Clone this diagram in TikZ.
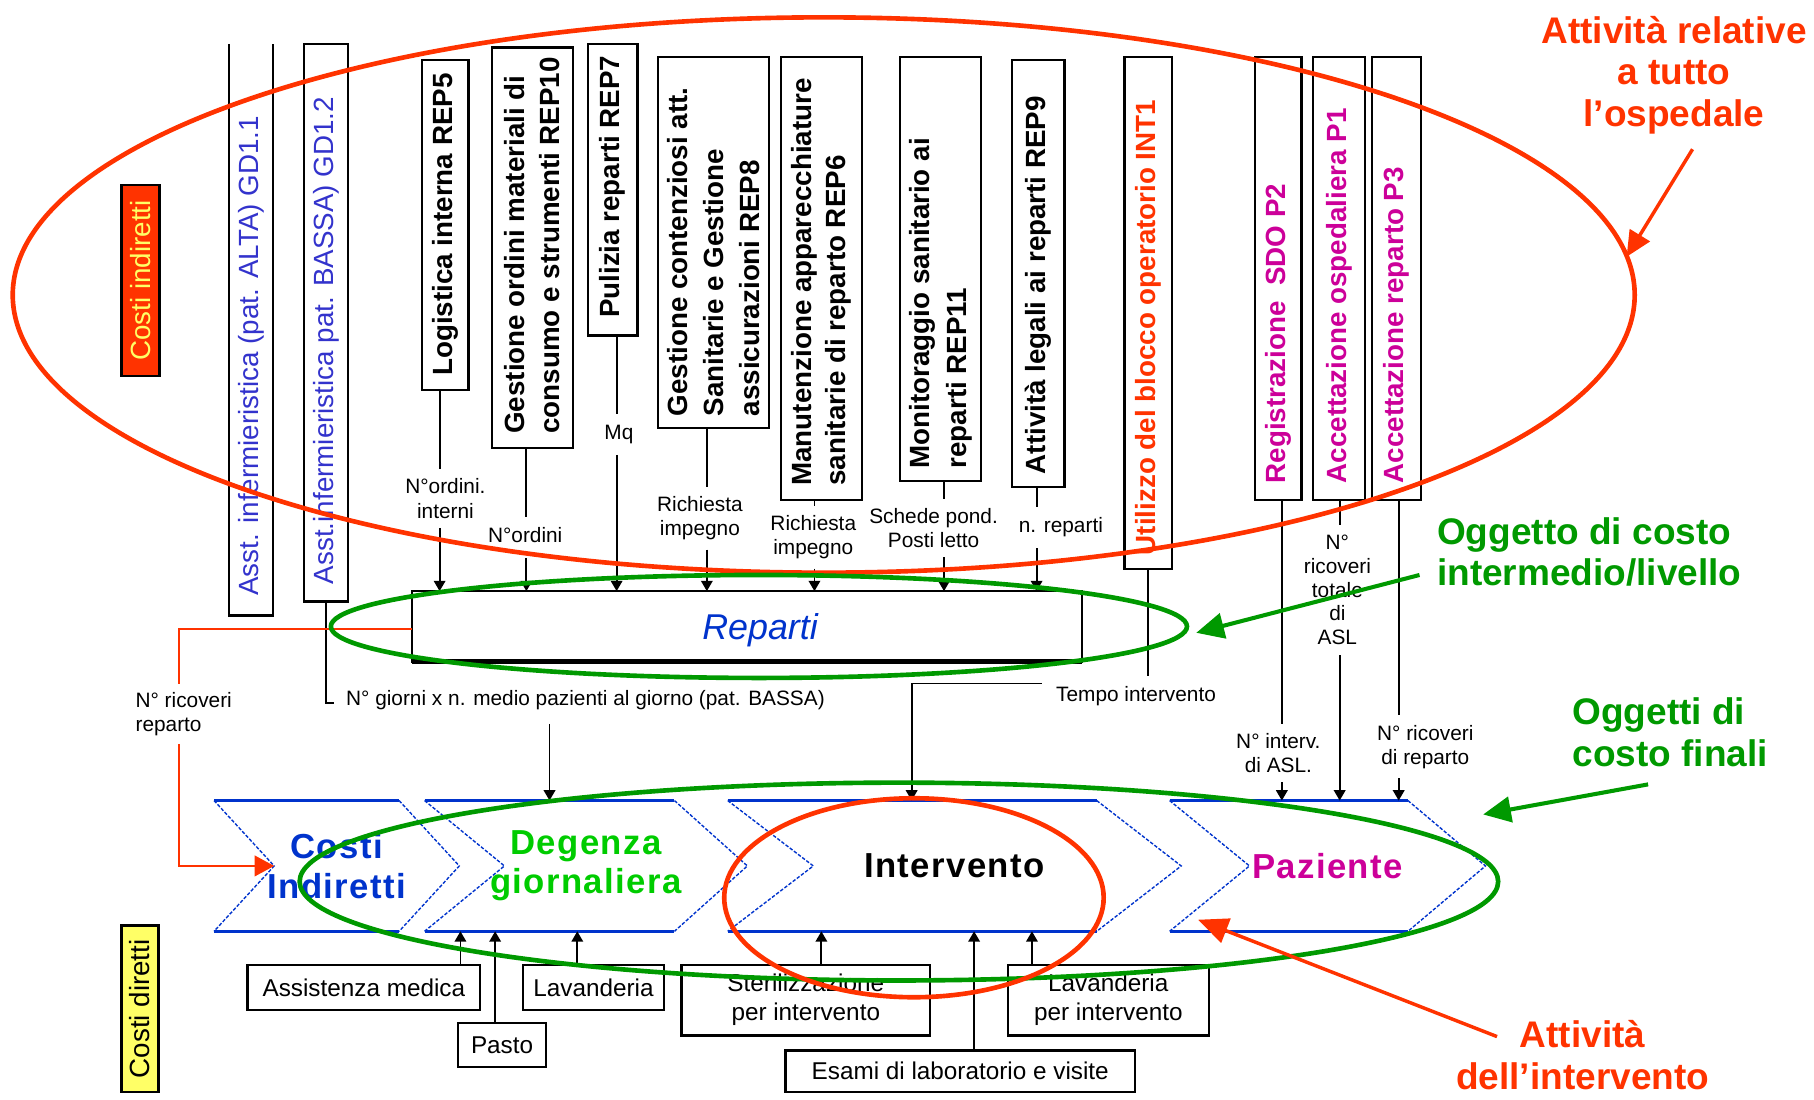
\documentclass[tikz,border=0pt]{standalone}
\usepackage{fontspec}
\setmainfont{Liberation Sans}
\usetikzlibrary{arrows.meta,calc,shapes.geometric}

\definecolor{hred}{HTML}{FF3300}
\definecolor{hgreen}{HTML}{009900}
\definecolor{lgreen}{HTML}{00CC00}
\definecolor{cblue}{HTML}{0033CC}
\definecolor{tblue}{HTML}{3333CC}
\definecolor{hmag}{HTML}{CC0099}
\definecolor{hyel}{HTML}{FFFF66}

\newcommand\fsz[2]{\fontsize{#1}{#2}\selectfont}
% box -> driver label -> receiving object, at an x offset from the box centre
\newcommand\feedline[4]{%
  \draw[conn] ($(#1.south)+(#4,0)$) -- ($(#1.south |- #2.north)+(#4,0)$);
  \draw[conn,arrtip] ($(#1.south |- #2.south)+(#4,0)$) -- ($(#1.south |- #3.north)+(#4,0)$);}
% direct cost box -> cost object above it
\newcommand\upline[3]{%
  \draw[conn,arrtip] ($(#1.north)+(#3,0)$) -- ($(#1.north |- #2.south)+(#3,0)$);}
% chevron outline around a node: notch depth, tip depth
\newcommand\chevshape[3]{%
  \draw[chevedge] (#1.north west) -- ($(#1.north east)+(-#3,0)$)
                  (#1.south west) -- ($(#1.south east)+(-#3,0)$);
  \draw[chevdiag] (#1.north west) -- ($(#1.west)+(#2,0)$) -- (#1.south west)
                  ($(#1.north east)+(-#3,0)$) -- (#1.east) -- ($(#1.south east)+(-#3,0)$);}

\begin{document}
\begin{tikzpicture}[x=1pt,y=-1pt,
  conn/.style={line width=1.6pt,black},
  arrtip/.style={-{Triangle[length=9pt,width=10pt]}},
  vb/.style={draw,line width=2pt,inner sep=0pt,outer sep=0pt},
  vt/.style={rotate=90,anchor=west,align=left,inner sep=0pt,font=\bfseries\fsz{24}{30}},
  lbl/.style={font=\fsz{18}{21},align=center,inner xsep=3pt,inner ysep=8pt},
  lbl1/.style={font=\fsz{18}{21},align=center,inner xsep=3pt,inner ysep=9pt,text height=13pt,text depth=4pt},
  bbox/.style={draw,line width=2pt,font=\fsz{21}{25},align=center,inner sep=0pt,outer sep=0pt},
  chev/.style={inner sep=0pt,outer sep=0pt,minimum height=113pt,align=center,
    font=\bfseries\fsz{30}{34}\addfontfeatures{LetterSpace=4}},
  chevedge/.style={cblue,line width=2.5pt},
  chevdiag/.style={cblue,line width=1.2pt,dash pattern=on 3pt off 1.5pt},
  ring/.style={ellipse,line width=4pt,inner sep=0pt,outer sep=0pt},
  ann/.style={font=\bfseries\fsz{32}{36},align=center,inner sep=0pt},
]
\useasboundingbox (0,0) rectangle (1568,950);

% ---- side tags
\node[draw,line width=2pt,fill=hred,rotate=90,minimum width=165pt,minimum height=33pt,
      inner sep=0pt,text=hyel,font=\fsz{24}{26}] (cind) at (121.5,242.5) {Costi indiretti};
\node[draw,line width=2pt,fill=hyel,rotate=90,minimum width=144pt,minimum height=32pt,
      inner sep=0pt,font=\fsz{24}{26}] (cdir) at (121,872) {Costi diretti};

% ---- activity boxes (top)
\node[vb,draw=none,minimum width=38pt,minimum height=494pt] (asst1) at (217,285) {};
\draw[line width=2pt] (asst1.north west) -- (asst1.south west) -- (asst1.south east) -- (asst1.north east);
\node[vb,minimum width=38pt,minimum height=482pt] (asst2) at (282,279) {};
\node[vb,minimum width=40pt,minimum height=285pt] (logi) at (385,194.5) {};
\node[vb,minimum width=70pt,minimum height=346pt] (gord) at (460,214) {};
\node[vb,minimum width=43pt,minimum height=252pt] (puli) at (529.5,164) {};
\node[vb,minimum width=96pt,minimum height=321pt] (cont) at (617,209.5) {};
\node[vb,minimum width=70pt,minimum height=383pt] (manu) at (710,240.5) {};
\node[vb,minimum width=70pt,minimum height=367pt] (moni) at (813,232.5) {};
\node[vb,minimum width=45pt,minimum height=369pt] (lega) at (897.5,236.5) {};
\node[vb,minimum width=41pt,minimum height=443pt] (util) at (992.5,270.5) {};
\node[vb,minimum width=40pt,minimum height=383pt] (regi) at (1105,240.5) {};
\node[vb,minimum width=45pt,minimum height=383pt] (acco) at (1157.5,240.5) {};
\node[vb,minimum width=42pt,minimum height=383pt] (accr) at (1207,240.5) {};

\node[vt,text=tblue,font=\fsz{24}{30}] (asst1t) at ($(asst1.south)+(0,-17)$) {Asst. infermieristica (pat. ALTA) GD1.1};
\node[vt,text=tblue,font=\fsz{24}{30}] (asst2t) at ($(asst2.south)+(0,-15)$) {Asst.infermieristica pat. BASSA) GD1.2};
\node[vt] (logit) at ($(logi.south)+(0,-12)$) {Logistica interna REP5};
\node[vt] (gordt) at ($(gord.south)+(0,-12)$) {Gestione ordini materiali di\\consumo e strumenti REP10};
\node[vt] (pulit) at ($(puli.south)+(0,-15)$) {Pulizia reparti REP7};
\node[vt,font=\bfseries\fsz{24}{31}] (contt) at ($(cont.south)+(0,-10)$) {Gestione contenziosi att.\\Sanitarie e Gestione\\assicurazioni REP8};
\node[vt] (manut) at ($(manu.south)+(0,-12)$) {Manutenzione apparecchiature\\sanitarie di reparto REP6};
\node[vt,font=\bfseries\fsz{24}{32}] (monit) at ($(moni.south)+(0,-11)$) {Monitoraggio sanitario ai\\reparti REP11};
\node[vt] (legat) at ($(lega.south)+(0,-11)$) {Attività legali ai reparti REP9};
\node[vt,text=hred] (utilt) at ($(util.south)+(0,-12)$) {Utilizzo del blocco operatorio INT1};
\node[vt,text=hmag] (regit) at ($(regi.south)+(0,-14)$) {Registrazione \ SDO P2};
\node[vt,text=hmag] (accot) at ($(acco.south)+(0,-14)$) {Accettazione ospedaliera P1};
\node[vt,text=hmag] (accrt) at ($(accr.south)+(0,-14)$) {Accettazione reparto P3};

% ---- intermediate cost object
\node[vb,minimum width=579pt,minimum height=61pt] (rep) at (645.5,541.5) {};
\draw[line width=4pt] (rep.south west) -- (rep.south east);
\node[font=\itshape\fsz{31}{34},text=cblue] (rept) at (657,545) {Reparti};

% ---- driver labels
\node[lbl] (l-logi) at (385,431) {N°ordini.\\interni};
\node[lbl1] (l-gord) at (454,464.5) {N°ordini};
\node[lbl1] (l-puli) at (535,375.5) {Mq};
\node[lbl] (l-cont) at (605,448) {Richiesta\\impegno};
\node[lbl] (l-manu) at (703,464.5) {Richiesta\\impegno};
\node[lbl] (l-moni) at (807,456.5) {Schede pond.\\Posti letto};
\node[lbl1] (l-lega) at (917,456) {n. reparti};
\node[lbl] (l-regi) at (1105,651) {N° interv.\\di ASL.};
\node[lbl,font=\fsz{18}{20.5},inner ysep=9pt] (l-acco) at (1156,510) {N°\\ricoveri\\totale\\di\\ASL};
\node[lbl] (l-accr) at (1232,645.5) {N° ricoveri\\di reparto};
\node[lbl1] (tempo) at (982,602) {Tempo intervento};
\node[lbl1,anchor=west] (ngiorni) at (296,605) {N° giorni x n. medio pazienti al giorno (pat. BASSA)};
\node[lbl,align=left,anchor=west,inner ysep=7pt] (ricov) at (114,617) {N° ricoveri\\reparto};

% ---- final cost objects
\node[chev,minimum width=212pt,text=cblue] (ci) at (291,748.5) {Costi\\Indiretti};
\node[chev,minimum width=279pt,text=lgreen] (deg) at (506.5,748.5) {Degenza\\giornaliera};
\node[chev,minimum width=392pt] (int) at (825,748.5) {Intervento};
\node[chev,minimum width=273pt,text=hmag] (pz) at (1147.5,748.5) {Paziente};
\chevshape{ci}{52}{52}
\chevshape{deg}{69}{63}
\chevshape{int}{74}{73}
\chevshape{pz}{69}{67}

% ---- direct cost boxes
\node[bbox,minimum width=201pt,minimum height=39pt] (assist) at (314.5,853.5) {Assistenza medica};
\node[bbox,minimum width=76pt,minimum height=38pt] (pasto) at (434,903.5) {Pasto};
\node[bbox,minimum width=122pt,minimum height=39pt] (lavan) at (513,853.5) {Lavanderia};
\node[bbox,minimum width=215pt,minimum height=61pt] (steril) at (696.5,864.5) {Sterilizzazione\\per intervento};
\node[bbox,minimum width=174pt,minimum height=61pt] (lavint) at (958,864.5) {Lavanderia\\per intervento};
\node[bbox,minimum width=302pt,minimum height=36pt] (esami) at (830,926) {Esami di laboratorio e visite};

% ---- connectors
\feedline{logi}{l-logi}{rep}{-5}
\feedline{gord}{l-gord}{rep}{-5}
\feedline{puli}{l-puli}{rep}{3.5}
\feedline{cont}{l-cont}{rep}{-6}
\feedline{manu}{l-manu}{rep}{-6}
\feedline{moni}{l-moni}{rep}{3}
\feedline{lega}{l-lega}{rep}{-1.5}
\feedline{regi}{l-regi}{pz}{3}
\feedline{acco}{l-acco}{pz}{0.5}
\feedline{accr}{l-accr}{pz}{2}

\draw[conn] (asst2.south) |- ($(ngiorni.west)+(-7,3)$);
\draw[conn,arrtip] ($(deg.north |- ngiorni.south)+(-31.5,3)$) -- ($(deg.north)+(-31.5,0)$);
\draw[conn] (util.south) -- (util.south |- tempo.north);
\draw[conn,arrtip] ($(tempo.north west)+(-9.5,6.5)$) -| ($(int.north)+(-37,0)$);

\draw[hred,line width=1.5pt] ($(rep.west)+(0,2)$) -| ($(ricov.north west)+(41,0)$);
\draw[hred,line width=1.5pt,-{Triangle[length=17pt,width=18pt]}]
  ($(ricov.south west)+(41,0)$) |- ($(ci.west)+(52,0)$);

\upline{assist}{deg}{83.5}
\upline{pasto}{deg}{-6}
\upline{lavan}{deg}{-14}
\upline{steril}{int}{13.5}
\upline{esami}{int}{12}
\upline{lavint}{int}{-66}

% ---- groupings
\node[ring,draw=hred,minimum width=1402pt,minimum height=480pt] (hosp) at (712,255) {};
\node[ring,draw=hgreen,minimum width=740pt,minimum height=89pt] (repell) at (656,541.5) {};
\node[ring,draw=hgreen,minimum width=1036pt,minimum height=171pt] (finell) at (777,762) {};
\node[ring,draw=hred,minimum width=328pt,minimum height=172pt] (intell) at (790,776) {};

% ---- callouts
\node[ann,text=hred] (hospT) at (1447,65) {Attività relative\\a tutto\\l’ospedale};
\node[ann,text=hgreen,align=left,anchor=west] (obj1) at (1242,477) {Oggetto di costo\\intermedio/livello};
\node[ann,text=hgreen,align=left,anchor=west] (obj2) at (1359,633) {Oggetti di\\costo finali};
\node[ann,text=hred] (intT) at (1368,912) {Attività\\dell’intervento};

\coordinate (c1) at (1463,129);
\coordinate (c2) at (1227,497);
\coordinate (c3) at (1424.6,678);
\coordinate (c4) at (1294,896);
\draw[hred,line width=3pt,-{Triangle[length=22pt,width=20pt]}] (c1) -- ($(hosp.east)+(-7,-33)$);
\draw[hgreen,line width=3.5pt,-{Triangle[length=24pt,width=22pt]}] (c2) -- ($(repell.east)+(8,5.5)$);
\draw[hgreen,line width=3.5pt,-{Triangle[length=24pt,width=22pt]}] (c3) -- ($(finell.east)+(-13,-58)$);
\draw[hred,line width=3pt,-{Triangle[length=26pt,width=22pt]}] (c4) -- ($(pz.south west)+(24.5,-10)$);
\end{tikzpicture}
\end{document}
